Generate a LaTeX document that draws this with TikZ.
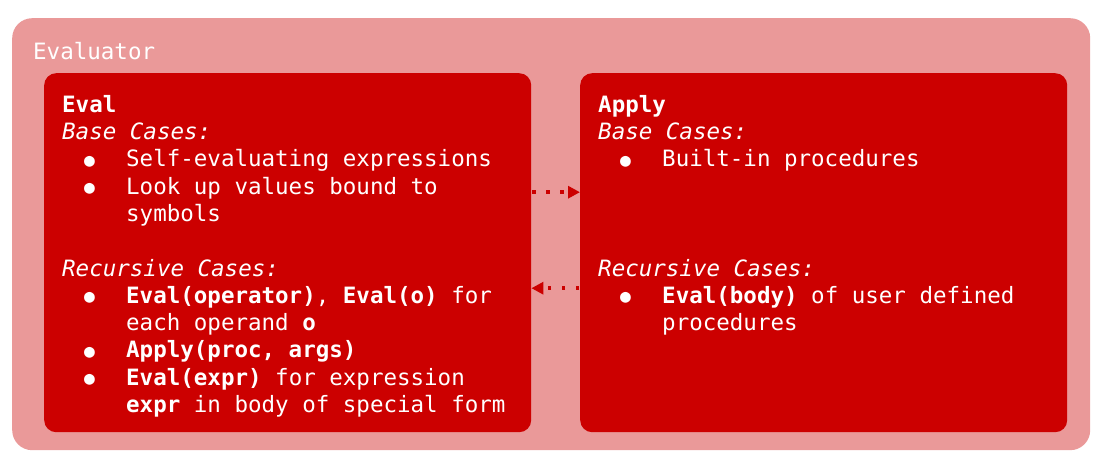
\documentclass[tikz,border=0pt]{standalone}
\usepackage{fontspec}
\setmainfont{DejaVu Sans Mono}
\usetikzlibrary{arrows.meta}
\definecolor{pinkbg}{HTML}{EA9999}
\definecolor{redbox}{HTML}{CC0000}
\newcommand{\bl}{\hspace*{22pt}\makebox[42pt][l]{\fontsize{18}{18}\selectfont\raisebox{0.5pt}{●}}}
\newcommand{\cl}{\hspace*{64pt}}
\begin{document}
\begin{tikzpicture}[x=1pt,y=-1pt,
  outer/.style={fill=pinkbg, rounded corners=20pt, inner sep=0pt, anchor=north west},
  panel/.style={fill=redbox, rounded corners=12pt, inner sep=0pt, anchor=north west, minimum width=487pt, minimum height=359pt},
  txt/.style={text=white, anchor=north west, align=left, inner sep=0pt, font=\fontsize{22.5}{27.3}\selectfont},
  link/.style={redbox, line width=3.5pt, dash pattern=on 3.5pt off 10.5pt, shorten <=1pt,
    -{Triangle[length=12pt,width=12pt]}}]
\useasboundingbox (0,0) rectangle (1112,471);
\node[outer, minimum width=1078pt, minimum height=432pt] (frame) at (12,18) {};
\node[txt, anchor=base west] (title) at (33,59) {Evaluator};
\node[panel] (eval) at (44,73) {};
\node[panel] (apply) at (580,73) {};
\node[txt] (evaltxt) at (62,95) {\textbf{Eval}\\
\textit{Base Cases:}\\
\bl Self-evaluating expressions\\
\bl Look up values bound to\\
\cl symbols\\[27.3pt]
\textit{Recursive Cases:}\\
\bl \textbf{Eval(operator)}, \textbf{Eval(o)} for\\
\cl each operand \textbf{o}\\
\bl \textbf{Apply(proc, args)}\\
\bl \textbf{Eval(expr)} for expression\\
\cl \textbf{expr} in body of special form};
\node[txt] (applytxt) at (598,95) {\textbf{Apply}\\
\textit{Base Cases:}\\
\bl Built-in procedures\\[81.9pt]
\textit{Recursive Cases:}\\
\bl \textbf{Eval(body)} of user defined\\
\cl procedures};
\draw[link] ([yshift=60.5pt]eval.east) -- ([yshift=60.5pt]apply.west);
\draw[link] ([yshift=-35.5pt]apply.west) -- ([yshift=-35.5pt]eval.east);
\end{tikzpicture}
\end{document}
